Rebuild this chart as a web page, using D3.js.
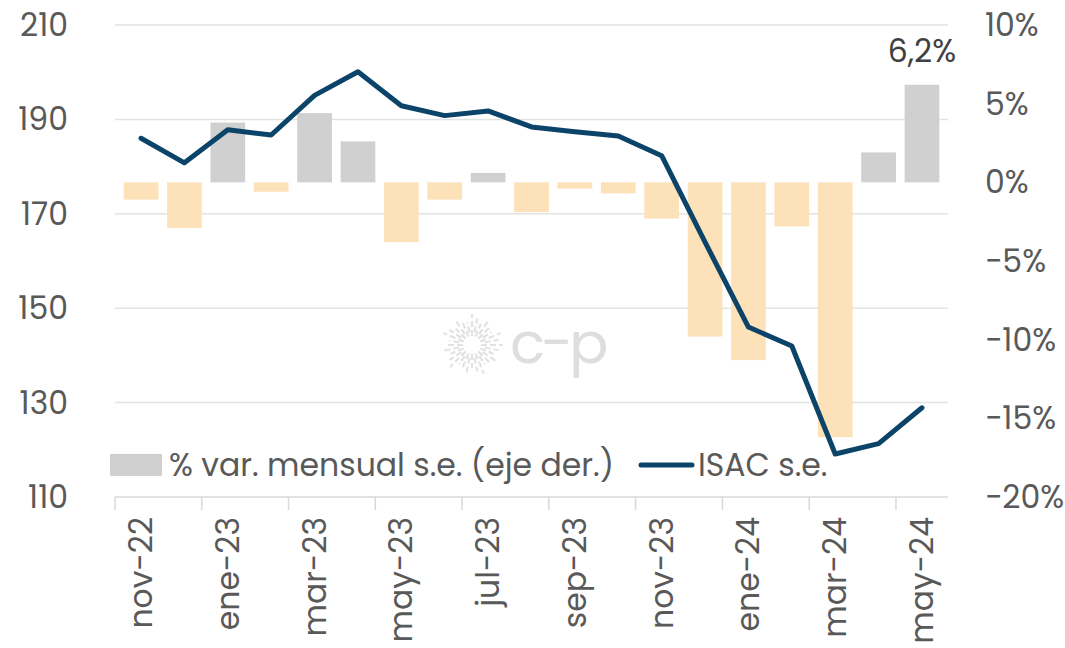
<!DOCTYPE html>
<html>
<head>
<meta charset="utf-8">
<script src="https://cdn.jsdelivr.net/npm/d3@7"></script>
<style>
  body { margin: 0; background: #fff; }
  svg text { font-family: "Poppins", "Open Sans", sans-serif; fill: #595959; }
</style>
</head>
<body>
<svg id="chart" width="1065" height="648"></svg>
<script>
// months shown on the x axis (every other one gets a label)
const months = ["nov-22", "dic-22", "ene-23", "feb-23", "mar-23", "abr-23", "may-23", "jun-23", "jul-23", "ago-23",
    "sep-23", "oct-23", "nov-23", "dic-23", "ene-24", "feb-24", "mar-24", "abr-24", "may-24"];

// ISAC s.e. (left axis)
const isac = [186.0, 180.8, 187.8, 186.7, 195.1, 200.1, 192.9, 190.8, 191.8, 188.4,
    187.4, 186.5, 182.3, 164.0, 146.0, 142.0, 119.1, 121.3, 128.9];

// % var. mensual s.e. (right axis)
const varMensual = [-1.1, -2.9, 3.8, -0.6, 4.4, 2.6, -3.8, -1.1, 0.6, -1.9,
    -0.4, -0.7, -2.3, -9.8, -11.3, -2.8, -16.2, 1.9, 6.2];

const leftTicks = [110, 130, 150, 170, 190, 210];
const rightTicks = [-20, -15, -10, -5, 0, 5, 10];

const fontSize = "31.5px";

const margin = { top: 25, right: 117, bottom: 151, left: 115 },
    width = 1065 - margin.left - margin.right,
    height = 648 - margin.top - margin.bottom;

const svg = d3.select("#chart");
const g = svg.append("g").attr("transform", `translate(${margin.left},${margin.top})`);

const x = d3.scaleBand().domain(months).range([0, width]).padding(0.2);
const yL = d3.scaleLinear().domain([110, 210]).range([height, 0]);
const yR = d3.scaleLinear().domain([-20, 10]).range([height, 0]);

// gridlines
g.append("g")
    .selectAll("line")
    .data(leftTicks.slice(1))
    .join("line")
    .attr("x1", 0).attr("x2", width)
    .attr("y1", d => yL(d)).attr("y2", d => yL(d))
    .attr("stroke", "#e3e3e3")
    .attr("stroke-width", 1.5);

// watermark
const wm = g.append("g").attr("transform", "translate(357,320)");
d3.range(32).forEach(i => {
    const a = i / 32 * 2 * Math.PI;
    const r0 = 9 + (i % 2) * 4, r1 = 31 - (i % 3) * 4;
    wm.append("line")
        .attr("x1", r0 * Math.cos(a)).attr("y1", r0 * Math.sin(a))
        .attr("x2", r1 * Math.cos(a)).attr("y2", r1 * Math.sin(a))
        .attr("stroke", "#e2e2e2")
        .attr("stroke-width", 2.2)
        .attr("stroke-dasharray", "6,3");
});
wm.append("text")
    .attr("x", 38).attr("y", 18)
    .style("font-size", "58px")
    .style("letter-spacing", "-4px")
    .style("fill", "#dedede")
    .text("c-p");

// bars
g.append("g")
    .selectAll("rect")
    .data(varMensual)
    .join("rect")
    .attr("x", (d, i) => x(months[i]))
    .attr("width", x.bandwidth())
    .attr("y", d => yR(Math.max(0, d)))
    .attr("height", d => Math.abs(yR(d) - yR(0)))
    .attr("fill", d => d >= 0 ? "#d0d0d0" : "#fde1b8");

// label on last bar
g.append("text")
    .attr("x", x(months[months.length - 1]) + x.bandwidth() / 2)
    .attr("y", yR(varMensual[varMensual.length - 1]) - 23)
    .attr("text-anchor", "middle")
    .style("font-size", fontSize)
    .style("fill", "#404040")
    .text("6,2%");

// line
const line = d3.line()
    .x((d, i) => x(months[i]) + x.bandwidth() / 2)
    .y(d => yL(d));

g.append("path")
    .datum(isac)
    .attr("d", line)
    .attr("fill", "none")
    .attr("stroke", "#0b4468")
    .attr("stroke-width", 5)
    .attr("stroke-linejoin", "round")
    .attr("stroke-linecap", "round");

// bottom axis
g.append("line")
    .attr("x1", 0).attr("x2", width)
    .attr("y1", height).attr("y2", height)
    .attr("stroke", "#d9d9d9")
    .attr("stroke-width", 1.5);

const shown = months.filter((d, i) => i % 2 === 0);

g.append("g")
    .selectAll("line")
    .data(shown)
    .join("line")
    .attr("x1", d => x(d) - x.step() * x.paddingOuter())
    .attr("x2", d => x(d) - x.step() * x.paddingOuter())
    .attr("y1", height).attr("y2", height + 13)
    .attr("stroke", "#d9d9d9")
    .attr("stroke-width", 1.5);

g.append("g")
    .selectAll("text")
    .data(shown)
    .join("text")
    .attr("transform", d => `translate(${x(d) + x.bandwidth() / 2},${height + 20}) rotate(-90)`)
    .attr("text-anchor", "end")
    .attr("dy", "0.35em")
    .style("font-size", fontSize)
    .text(d => d);

// left axis labels
g.append("g")
    .selectAll("text")
    .data(leftTicks)
    .join("text")
    .attr("x", -47)
    .attr("y", d => yL(d))
    .attr("dy", "0.35em")
    .attr("text-anchor", "end")
    .style("font-size", fontSize)
    .text(d => d);

// right axis labels
g.append("g")
    .selectAll("text")
    .data(rightTicks)
    .join("text")
    .attr("x", width + 37)
    .attr("y", d => yR(d))
    .attr("dy", "0.35em")
    .attr("text-anchor", "start")
    .style("font-size", fontSize)
    .text(d => (d < 0 ? "\u2212" + Math.abs(d) : d) + "%");

// legend
const leg = g.append("g").attr("transform", `translate(0,${yL(116.8)})`);
leg.append("rect")
    .attr("x", -5).attr("y", -11)
    .attr("width", 52).attr("height", 22)
    .attr("fill", "#d0d0d0");
leg.append("text")
    .attr("x", 54).attr("y", 0)
    .attr("dy", "0.35em")
    .style("font-size", fontSize)
    .text("% var. mensual s.e. (eje der.)");
leg.append("line")
    .attr("x1", 526).attr("x2", 577)
    .attr("y1", 0).attr("y2", 0)
    .attr("stroke", "#0b4468")
    .attr("stroke-width", 5)
    .attr("stroke-linecap", "round");
leg.append("text")
    .attr("x", 583).attr("y", 0)
    .attr("dy", "0.35em")
    .style("font-size", fontSize)
    .text("ISAC s.e.");
</script>
</body>
</html>
